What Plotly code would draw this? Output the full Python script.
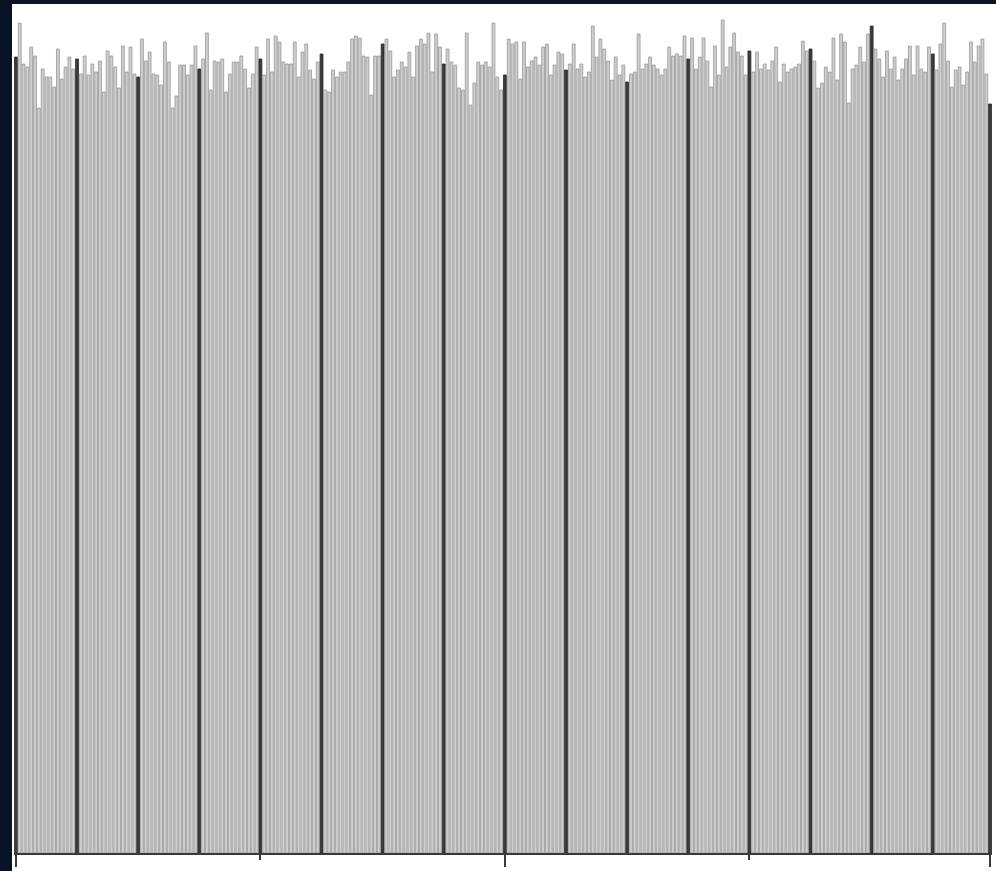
import plotly.graph_objects as go

# Frequency of each byte value 0..255 in the sample
byte_values = list(range(256))
byte_counts = [
    796, 830, 789, 786, 806, 797, 745, 784, 776, 776, 766, 804, 774, 786, 796, 784,
    794, 779, 797, 778, 789, 781, 792, 761, 802, 797, 786, 765, 807, 781, 806, 779,
    776, 814, 792, 801, 779, 778, 768, 811, 791, 745, 757, 788, 788, 778, 788, 807,
    784, 794, 820, 763, 792, 791, 794, 761, 779, 791, 791, 797, 784, 765, 779, 806,
    794, 778, 814, 781, 817, 811, 791, 789, 789, 811, 776, 801, 809, 783, 774, 791,
    799, 763, 761, 783, 776, 781, 781, 791, 814, 817, 815, 797, 796, 758, 797, 797,
    809, 814, 802, 776, 783, 791, 786, 801, 776, 807, 814, 809, 820, 781, 819, 806,
    789, 804, 791, 788, 765, 763, 820, 748, 770, 791, 788, 791, 786, 830, 776, 763,
    778, 814, 809, 811, 774, 811, 786, 792, 796, 788, 806, 809, 778, 788, 801, 799,
    783, 789, 809, 784, 789, 776, 781, 827, 796, 814, 804, 792, 773, 796, 778, 788,
    771, 779, 781, 819, 784, 789, 796, 788, 784, 778, 784, 806, 797, 799, 797, 817,
    794, 815, 784, 796, 815, 792, 766, 807, 778, 833, 786, 806, 820, 801, 797, 778,
    802, 781, 801, 784, 789, 783, 792, 806, 771, 789, 781, 784, 786, 789, 812, 802,
    804, 792, 765, 770, 786, 781, 815, 773, 819, 811, 750, 784, 788, 806, 791, 819,
    827, 804, 794, 776, 802, 784, 796, 773, 784, 794, 807, 778, 807, 784, 781, 806,
    799, 783, 809, 830, 792, 766, 783, 786, 768, 781, 811, 791, 807, 814, 779, 749,
]
major_ticks = [0, 128, 255]
minor_ticks = [64, 192]

W, H = 996, 871
ML, MR, MT, MB = 14, 4, 4, 18
PW, PH = W - ML - MR, H - MT - MB
NAVY = "#0a1226"

# every 16th byte value (and the last one) is drawn dark
is_mark = [(b % 16 == 0) or (b == byte_values[-1]) for b in byte_values]
fill = ["#3a3a3a" if m else "#cecece" for m in is_mark]
edge = ["#2a2a2a" if m else "#999999" for m in is_mark]

fig = go.Figure(
    go.Bar(
        x=byte_values,
        y=byte_counts,
        marker=dict(color=fill, line=dict(color=edge, width=0.8)),
        hoverinfo="x+y",
    )
)


def px_x(p):
    return (p - ML) / PW


def px_y(p):
    return (H - MB - p) / PH


fig.update_layout(
    width=W,
    height=H,
    margin=dict(l=ML, r=MR, t=MT, b=MB, pad=0),
    paper_bgcolor="white",
    plot_bgcolor="white",
    bargap=0.24,
    showlegend=False,
    shapes=[
        # dark frame strips on the left and top edges
        dict(type="rect", xref="paper", yref="paper", layer="above",
             x0=px_x(0), x1=px_x(12), y0=px_y(H), y1=px_y(0),
             fillcolor=NAVY, line=dict(width=0)),
        dict(type="rect", xref="paper", yref="paper", layer="above",
             x0=px_x(0), x1=px_x(W), y0=px_y(4), y1=px_y(0),
             fillcolor=NAVY, line=dict(width=0)),
    ],
    xaxis=dict(
        range=[-0.5, 255.5],
        showgrid=False,
        zeroline=False,
        showline=True,
        linecolor="#3a3a3a",
        linewidth=2,
        ticks="outside",
        tickmode="array",
        tickvals=major_ticks,
        ticklen=12,
        tickwidth=2,
        tickcolor="#3a3a3a",
        showticklabels=False,
        minor=dict(
            tickmode="array",
            tickvals=minor_ticks,
            ticks="outside",
            ticklen=5,
            tickwidth=2,
            tickcolor="#3a3a3a",
            showgrid=False,
        ),
    ),
    yaxis=dict(
        range=[0, PH],
        visible=False,
        showgrid=False,
        zeroline=False,
    ),
)

fig.write_html("out.html")
